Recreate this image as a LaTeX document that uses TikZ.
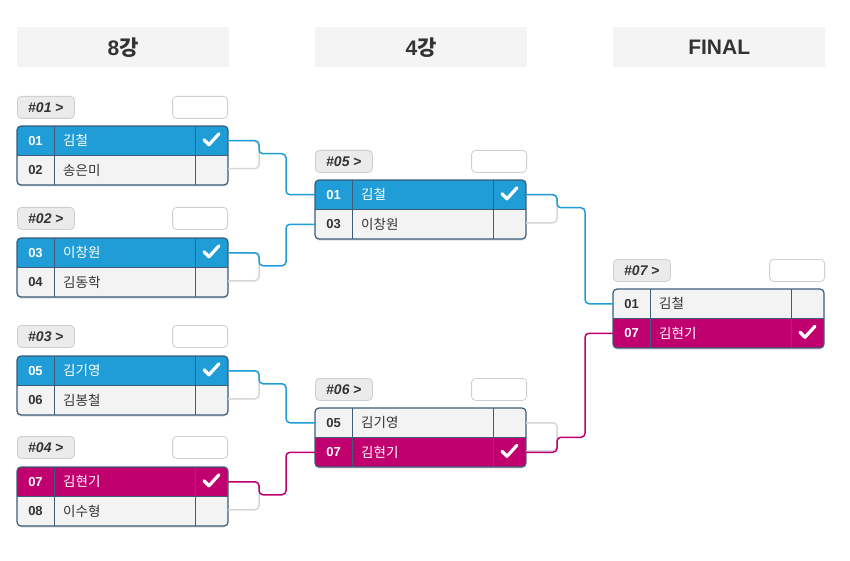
\documentclass[tikz,border=0pt]{standalone}
\usepackage{fontspec}
\setmainfont{Liberation Sans}
\newfontfamily\kr{Noto Sans CJK KR}
\definecolor{winblue}{HTML}{209DD6}
\definecolor{winmag}{HTML}{C0006E}
\definecolor{rowgray}{HTML}{F3F3F3}
\definecolor{divcol}{HTML}{3C5C78}
\definecolor{hdrgray}{HTML}{F4F4F4}
\definecolor{lblgray}{HTML}{EBEBEB}
\definecolor{lbldraw}{HTML}{CFCFCF}
\definecolor{boxdraw}{HTML}{D6D6D6}
\definecolor{txtdark}{HTML}{333333}
\definecolor{shadowc}{HTML}{DADDE0}
\tikzset{
 rowbox/.style={rectangle, minimum width=211pt, minimum height=29.5pt, inner sep=0pt, outer sep=0pt, anchor=north west},
 winrow/.style={fill=#1, text=white},
 loserow/.style={fill=rowgray, text=txtdark},
 numtxt/.style={font=\bfseries\fontsize{13}{15}\selectfont, inner sep=0pt},
 nametxt/.style={font=\kr\fontsize{13.5}{15}\selectfont, inner sep=0pt, anchor=west},
 header/.style={rectangle, fill=hdrgray, minimum width=212pt, minimum height=40pt, anchor=north west, inner sep=0pt, font=\bfseries\fontsize{21}{24}\selectfont, text=txtdark},
 tag/.style={rectangle, rounded corners=4pt, fill=lblgray, draw=lbldraw, line width=0.8pt, minimum width=57pt, minimum height=22pt, anchor=north west, inner sep=0pt, font=\bfseries\fontsize{14}{16}\selectfont, text=txtdark},
 scorebox/.style={rectangle, rounded corners=4pt, fill=white, draw=lbldraw, line width=0.8pt, minimum width=55pt, minimum height=22pt, anchor=north east, inner sep=0pt},
 bracket/.style={draw=boxdraw, line width=1.5pt, rounded corners=4pt},
 link/.style={draw=#1, line width=1.5pt, rounded corners=4pt},
 tick/.style={draw=white, line width=3.2pt, line cap=round, line join=round},
 divider/.style={draw=divcol, line width=0.8pt},
 cardframe/.style={draw=divcol, line width=1.2pt, rounded corners=4pt},
}
\newcommand\matchcard[9]{%
 \fill[shadowc, rounded corners=4pt] (#2,#3+1.5) rectangle ++(211,59);
 \begin{scope}
 \clip[rounded corners=4pt] (#2,#3) rectangle ++(211,59);
 \node[rowbox,#8] (#1a) at (#2,#3) {};
 \node[rowbox,#9] (#1b) at (#2,#3+29.5) {};
 \end{scope}
 \node[#8,fill=none,numtxt] at (#2+18.5,#3+14.75) {#4};
 \node[#8,fill=none,nametxt] at (#2+46,#3+14.75) {#5};
 \node[#9,fill=none,numtxt] at (#2+18.5,#3+44.25) {#6};
 \node[#9,fill=none,nametxt] at (#2+46,#3+44.25) {#7};
 \draw[divider] (#2+37,#3) -- ++(0,59);
 \draw[divider] (#2+178,#3) -- ++(0,59);
 \draw[divider] (#2,#3+29.5) -- ++(211,0);
 \draw[cardframe] (#2,#3) rectangle ++(211,59);
}
\begin{document}
\begin{tikzpicture}[x=1pt,y=-1pt]
\useasboundingbox (0,0) rectangle (850,561);
% headers
\node[header] (h1) at (17,27) {8{\kr\bfseries 강}};
\node[header] (h2) at (315,27) {4{\kr\bfseries 강}};
\node[header] (h3) at (613,27) {FINAL};
% tags and score boxes
\node[tag] (t1) at (17,96) {{\itshape\#01} >};
\node[scorebox] (s1) at (228,96) {};
\node[tag] (t2) at (17,207) {{\itshape\#02} >};
\node[scorebox] (s2) at (228,207) {};
\node[tag] (t3) at (17,325) {{\itshape\#03} >};
\node[scorebox] (s3) at (228,325) {};
\node[tag] (t4) at (17,436) {{\itshape\#04} >};
\node[scorebox] (s4) at (228,436) {};
\node[tag] (t5) at (315,150) {{\itshape\#05} >};
\node[scorebox] (s5) at (527,150) {};
\node[tag] (t6) at (315,378) {{\itshape\#06} >};
\node[scorebox] (s6) at (527,378) {};
\node[tag] (t7) at (613,259) {{\itshape\#07} >};
\node[scorebox] (s7) at (825,259) {};
% cards
\matchcard{m1}{17}{126}{01}{김철}{02}{송은미}{winrow=winblue}{loserow}
\matchcard{m2}{17}{238}{03}{이창원}{04}{김동학}{winrow=winblue}{loserow}
\matchcard{m3}{17}{356}{05}{김기영}{06}{김봉철}{winrow=winblue}{loserow}
\matchcard{m4}{17}{467}{07}{김현기}{08}{이수형}{winrow=winmag}{loserow}
\matchcard{m5}{315}{180}{01}{김철}{03}{이창원}{winrow=winblue}{loserow}
\matchcard{m6}{315}{408}{05}{김기영}{07}{김현기}{loserow}{winrow=winmag}
\matchcard{m7}{613}{289}{01}{김철}{07}{김현기}{loserow}{winrow=winmag}
% brackets
\draw[bracket] (m1a.east) -- ++(31,0) -- ++(0,28) -- ++(-31,0);
\draw[bracket] (m2a.east) -- ++(31,0) -- ++(0,28) -- ++(-31,0);
\draw[bracket] (m3a.east) -- ++(31,0) -- ++(0,28) -- ++(-31,0);
\draw[bracket] (m4a.east) -- ++(31,0) -- ++(0,28) -- ++(-31,0);
\draw[bracket] (m5a.east) -- ++(31,0) -- ++(0,28) -- ++(-31,0);
\draw[bracket] (m6a.east) -- ++(31,0) -- ++(0,28) -- ++(-31,0);
% links
\draw[link=winblue] (m1a.east) -- ++(31,0) -- ++(0,13) -- ++(27,0) |- (m5a.west);
\draw[link=winblue] (m2a.east) -- ++(31,0) -- ++(0,13) -- ++(27,0) |- (m5b.west);
\draw[link=winblue] (m3a.east) -- ++(31,0) -- ++(0,13) -- ++(27,0) |- (m6a.west);
\draw[link=winmag] (m4a.east) -- ++(31,0) -- ++(0,13) -- ++(27,0) |- (m6b.west);
\draw[link=winblue] (m5a.east) -- ++(31,0) -- ++(0,13) -- ++(28,0) |- (m7a.west);
\draw[link=winmag] (m6b.east) -- ++(31,0) -- ++(0,-15) -- ++(28,0) |- (m7b.west);
% ticks
\draw[tick] ([xshift=-24pt,yshift=1pt]m1a.east) -- ++(5,5) -- ++(10,-11);
\draw[tick] ([xshift=-24pt,yshift=1pt]m2a.east) -- ++(5,5) -- ++(10,-11);
\draw[tick] ([xshift=-24pt,yshift=1pt]m3a.east) -- ++(5,5) -- ++(10,-11);
\draw[tick] ([xshift=-24pt,yshift=1pt]m4a.east) -- ++(5,5) -- ++(10,-11);
\draw[tick] ([xshift=-24pt,yshift=1pt]m5a.east) -- ++(5,5) -- ++(10,-11);
\draw[tick] ([xshift=-24pt,yshift=1pt]m6b.east) -- ++(5,5) -- ++(10,-11);
\draw[tick] ([xshift=-24pt,yshift=1pt]m7b.east) -- ++(5,5) -- ++(10,-11);
\end{tikzpicture}
\end{document}
